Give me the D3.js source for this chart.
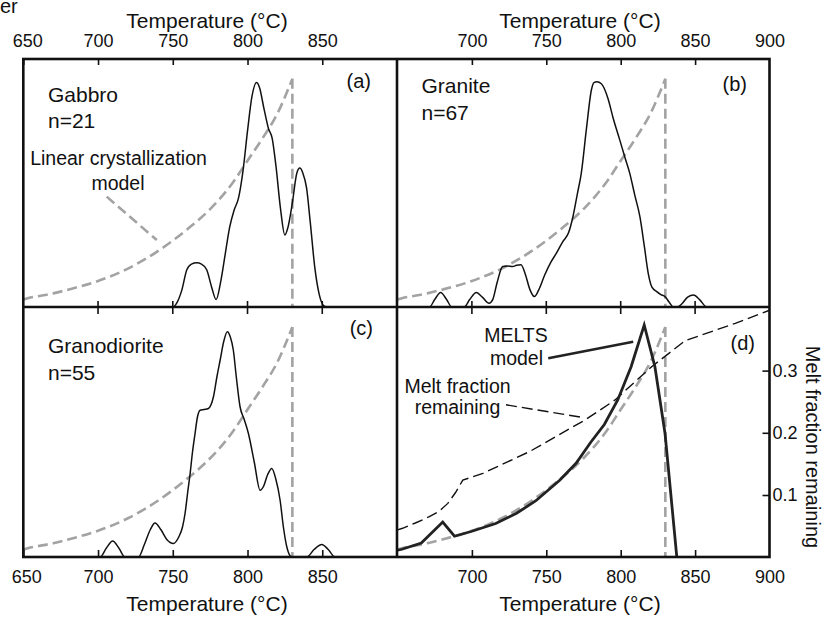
<!DOCTYPE html>
<html><head><meta charset="utf-8">
<script src="https://cdn.jsdelivr.net/npm/d3@7"></script>
<style>
body{margin:0;background:#fff}
svg{display:block}
text{font-family:"Liberation Sans",Arial,Helvetica,sans-serif;fill:#111}
</style>
</head><body>
<svg id="chart" width="825" height="617"></svg>
<script>
// ---------------- data ----------------
const topTicksLeft = [650,700,750,800,850];
const topTicksRight = [700,750,800,850,900];
const innerTicks = [700,750,800,850];
const meltTicks = [0.1,0.2,0.3];

// linear crystallization model (fraction of panel height)
const modelT = [650,653,670,680,700,720,740,760,775,790,800,810,820,830];
const modelV = [0.03,0.035,0.055,0.07,0.105,0.155,0.225,0.315,0.395,0.50,0.59,0.68,0.78,0.92];
const cutoffT = 830;

// (a) Gabbro n=21
const gabbroT = [748,750,753,756,759.4,762.5,766,769.2,772.7,776,779,782,785,788,791,794,797,800,803,806,808,811,814,816.5,819,822,825,827,830,833,835,837,839.5,842,845,848,851,853];
const gabbroV = [0,0,0.02,0.067,0.15,0.173,0.178,0.173,0.15,0.08,0.03,0.1,0.21,0.32,0.39,0.44,0.55,0.71,0.85,0.905,0.885,0.8,0.72,0.68,0.57,0.4,0.29,0.32,0.42,0.54,0.56,0.54,0.48,0.34,0.16,0.05,0.005,0];

// (b) Granite n=67
const graniteT = [669,671.5,675,679,683,686.5,694.8,698.5,703,707,711.5,714,717,720.7,724,727.4,730,733,736,739,742,745,749,753,756.7,761,765,767.9,771,773.5,777,780.3,782,784,787,791.5,795,799.4,803,806.1,809.5,812.9,816,818.5,821,824.2,827,829.8,832.5,835.4,838,841,845,849,853,857.9,860];
const graniteV = [0,0,0.03,0.058,0.03,0,0,0.03,0.058,0.04,0.015,0.03,0.1,0.163,0.165,0.163,0.168,0.17,0.13,0.07,0.042,0.07,0.13,0.18,0.216,0.263,0.3,0.364,0.46,0.539,0.72,0.875,0.905,0.908,0.9,0.84,0.76,0.673,0.6,0.539,0.45,0.364,0.24,0.136,0.08,0.062,0.05,0.042,0.02,0,0,0.012,0.04,0.048,0.03,0,0];

// (c) Granodiorite n=55
const granodioriteT = [699,701.4,705.5,709.8,714,718,727,731,735,738.1,742,746,750.4,754,756.5,758.2,760,761.6,763.2,764.9,766.5,768.3,771,773.8,777.2,779.5,781.7,784,786.5,788.5,790.5,792.5,795,797.8,800.6,804.5,808.4,810.5,813.5,816.2,819,821.8,824,826.3,829.6,839.7,844.5,849.7,854,858.6,861];
const granodioriteV = [0,0,0.035,0.064,0.035,0,0,0.05,0.11,0.136,0.11,0.07,0.054,0.08,0.12,0.174,0.26,0.334,0.42,0.494,0.56,0.587,0.59,0.594,0.641,0.72,0.788,0.86,0.901,0.88,0.828,0.72,0.601,0.55,0.494,0.38,0.267,0.28,0.33,0.354,0.31,0.227,0.12,0.04,0,0,0.03,0.05,0.03,0,0];

// (d) MELTS model (fraction of panel height)
const meltsT = [650,653,666,680.4,688.3,700,716,730,743,759,770,780,789,798,807,815.8,823,829.8,837.7];
const meltsV = [0.027,0.031,0.056,0.14,0.083,0.103,0.134,0.175,0.225,0.307,0.375,0.46,0.53,0.628,0.761,0.928,0.761,0.494,0];

// (d) melt fraction remaining (right axis)
const meltFracT = [650,653.4,662,671.4,678,683.8,689,693.9,707.4,738.9,775.8,796,820.8,843.3,877,900];
const meltFracV = [0.044,0.0465,0.055,0.0651,0.074,0.0865,0.104,0.124,0.1348,0.170,0.2203,0.2524,0.3063,0.3481,0.376,0.397];

// ---------------- layout ----------------
const svg = d3.select("#chart");
const TOP = 59, MID = 307, BOT = 557;
const LX0 = 23.3, LX1 = 397, RX0 = 397.5, RX1 = 769.5;
const GRAY = "#a3a3a3";
const FS_TICK = 18, FS_TITLE = 21;

const xL = d3.scaleLinear().domain([650,900]).range([LX0,LX1]);
const xR = d3.scaleLinear().domain([650,900]).range([RX0,RX1]);
const yTop = d3.scaleLinear().domain([0,1]).range([MID,TOP]);
const yBot = d3.scaleLinear().domain([0,1]).range([BOT,MID]);
const yMelt = d3.scaleLinear().domain([0,0.4]).range([557.2,308.4]);

const defs = svg.append("defs");
function clip(id,x0,y0,x1,y1){
  defs.append("clipPath").attr("id",id).append("rect")
    .attr("x",x0).attr("y",y0).attr("width",x1-x0).attr("height",y1-y0);
  return "url(#"+id+")";
}

function panel(id, x, y, x0, x1, y0, y1, dT, dV, smooth){
  const g = svg.append("g").attr("clip-path", clip(id, x0, y0, x1, y1));
  const modelLine = d3.line().x((d,i)=>x(modelT[i])).y((d,i)=>y(modelV[i])).curve(d3.curveMonotoneX);
  g.append("path").attr("d", modelLine(modelT))
    .attr("fill","none").attr("stroke",GRAY).attr("stroke-width",2.6).attr("stroke-dasharray","10,5");
  g.append("line")
    .attr("x1",x(cutoffT)).attr("x2",x(cutoffT))
    .attr("y1",y(modelV[modelV.length-1])).attr("y2",y(0))
    .attr("stroke",GRAY).attr("stroke-width",2.6).attr("stroke-dasharray","10,5");
  if(dT){
    const l = d3.line().x((d,i)=>x(dT[i])).y((d,i)=>y(dV[i]))
      .curve(smooth ? d3.curveMonotoneX : d3.curveLinear);
    g.append("path").attr("d", l(dT)).attr("fill","none").attr("stroke","#111").attr("stroke-width",1.5);
  }
  return g;
}

panel("ca", xL, yTop, LX0, LX1, TOP, MID, gabbroT, gabbroV, true);
panel("cb", xR, yTop, RX0-0.5, RX1, TOP, MID, graniteT, graniteV, true);
panel("cc", xL, yBot, LX0, LX1, MID, BOT, granodioriteT, granodioriteV, true);
const gd = panel("cd", xR, yBot, RX0-0.5, RX1, MID, BOT, null, null, true);

// (d) melt fraction remaining
const mfLine = d3.line().x((d,i)=>xR(meltFracT[i])).y((d,i)=>yMelt(meltFracV[i]));
gd.append("path").attr("d", mfLine(meltFracT)).attr("fill","none")
  .attr("stroke","#111").attr("stroke-width",1.4).attr("stroke-dasharray","11,5");
// (d) MELTS model
const meltsLine = d3.line().x((d,i)=>xR(meltsT[i])).y((d,i)=>yBot(meltsV[i]));
gd.append("path").attr("d", meltsLine(meltsT)).attr("fill","none")
  .attr("stroke","#222").attr("stroke-width",2.8).attr("stroke-linejoin","miter");

// ---------------- annotations ----------------
svg.append("line")
  .attr("x1",xL(705.8)).attr("y1",yTop(0.445)).attr("x2",xL(739.3)).attr("y2",yTop(0.27))
  .attr("stroke",GRAY).attr("stroke-width",2.6).attr("stroke-dasharray","10,5");
svg.append("line")
  .attr("x1",xR(751.3)).attr("y1",yBot(0.795)).attr("x2",xR(808.4)).attr("y2",yBot(0.861))
  .attr("stroke","#222").attr("stroke-width",2.6);
svg.append("line")
  .attr("x1",xR(722.9)).attr("y1",yMelt(0.245)).attr("x2",xR(773.6)).attr("y2",yMelt(0.225))
  .attr("stroke","#111").attr("stroke-width",1.4).attr("stroke-dasharray","11,5");

function txt(s, x, y, fs, anchor){
  return svg.append("text").attr("x",x).attr("y",y).attr("font-size",fs)
    .attr("text-anchor",anchor||"start").text(s);
}
txt("er", 0, 13, 20);
txt("Gabbro", 48, 101.5, 21);
txt("n=21", 48, 127.5, 21);
txt("(a)", 371, 88, 20, "end");
txt("Linear crystallization", 118.5, 165, 19.5, "middle");
txt("model", 118, 189.5, 19.5, "middle");

txt("Granite", 421.5, 93, 21);
txt("n=67", 421.5, 120, 21);
txt("(b)", 747, 91, 20, "end");

txt("Granodiorite", 48, 353, 21);
txt("n=55", 48, 380, 21);
txt("(c)", 373, 335, 20, "end");

txt("(d)", 755, 350, 20, "end");
txt("MELTS", 516, 341.5, 19.5, "middle");
txt("model", 516.5, 365, 19.5, "middle");
txt("Melt fraction", 457.5, 392.5, 19.5, "middle");
txt("remaining", 457.5, 413.5, 19.5, "middle");

// ---------------- frames ----------------
const frame = svg.append("g").attr("fill","none").attr("stroke","#111").attr("stroke-width",2.6);
frame.append("rect").attr("x",LX0).attr("y",TOP).attr("width",RX1-LX0).attr("height",BOT-TOP);
frame.append("line").attr("x1",LX1).attr("x2",LX1).attr("y1",TOP).attr("y2",BOT);
frame.append("line").attr("x1",LX0).attr("x2",RX1).attr("y1",MID).attr("y2",MID);

// ---------------- axes ----------------
function styleAxis(g){
  g.select(".domain").remove();
  g.selectAll(".tick line").attr("stroke","#111").attr("stroke-width",1.6);
  g.selectAll("text").attr("font-size",FS_TICK).attr("font-family",'"Liberation Sans",Arial,sans-serif').attr("fill","#111");
}
svg.append("g").attr("transform",`translate(0,${TOP})`)
  .call(d3.axisTop(xL).tickValues(topTicksLeft).tickSizeInner(-6).tickSizeOuter(0).tickPadding(12))
  .call(styleAxis)
  .call(g=>g.selectAll(".tick").filter(d=>d===650).select("text").attr("dx",4));
svg.append("g").attr("transform",`translate(0,${TOP})`)
  .call(d3.axisTop(xR).tickValues(topTicksRight).tickSizeInner(-6).tickSizeOuter(0).tickPadding(12))
  .call(styleAxis)
  .call(g=>g.selectAll(".tick").filter(d=>d===900).select("line").remove());
svg.append("g").attr("transform",`translate(0,${BOT})`)
  .call(d3.axisBottom(xL).tickValues(topTicksLeft).tickSizeInner(-7).tickSizeOuter(0).tickPadding(13))
  .call(styleAxis)
  .call(g=>g.selectAll(".tick").filter(d=>d===650).select("text").attr("dx",3));
svg.append("g").attr("transform",`translate(0,${BOT})`)
  .call(d3.axisBottom(xR).tickValues(topTicksRight).tickSizeInner(-7).tickSizeOuter(0).tickPadding(13))
  .call(styleAxis)
  .call(g=>g.selectAll(".tick").filter(d=>d===900).select("line").remove());
[xL,xR].forEach(x=>{
  svg.append("g").selectAll("line").data(innerTicks).join("line")
    .attr("x1",d=>x(d)).attr("x2",d=>x(d)).attr("y1",MID-6).attr("y2",MID+7)
    .attr("stroke","#111").attr("stroke-width",1.6);
});
svg.append("g").attr("transform",`translate(${RX1},0)`)
  .call(d3.axisRight(yMelt).tickValues(meltTicks).tickFormat(d3.format(".1f")).tickSizeInner(-7).tickSizeOuter(0).tickPadding(3))
  .call(styleAxis);

// axis titles
txt("Temperature (°C)", 207, 28, FS_TITLE, "middle");
txt("Temperature (°C)", 580, 28, FS_TITLE, "middle");
txt("Temperature (°C)", 207, 611, FS_TITLE, "middle");
txt("Temperature (°C)", 580, 611, FS_TITLE, "middle");
svg.append("text").attr("transform","translate(806,447) rotate(90)")
  .attr("text-anchor","middle").attr("font-size",20).text("Melt fraction remaining");
</script>
</body></html>
